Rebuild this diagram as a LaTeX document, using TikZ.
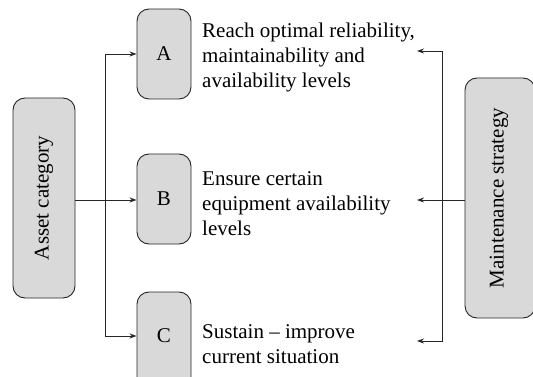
\documentclass[tikz,border=0pt]{standalone}
\usepackage{fontspec}
\setmainfont{Liberation Serif}
\usetikzlibrary{arrows.meta}
\begin{document}
\begin{tikzpicture}[x=1pt,y=-1pt,
  box/.style={draw=black!85, fill=black!15, line width=0.9pt, rounded corners=12pt, inner sep=0pt},
  big/.style={font=\fontsize{21}{25}\selectfont},
  lbl/.style={big, align=left, anchor=base west, inner sep=0pt},
  conn/.style={draw=black!85, line width=0.9pt},
  arr/.style={conn, -{Stealth[length=7pt,width=5pt]}}]
\useasboundingbox (0,0) rectangle (533,377);
\node[box, minimum width=62pt, minimum height=200pt] (asset) at (44,198) {};
\node[rotate=90, big] (assettxt) at (asset.center) {Asset category};
\node[box, big, minimum width=54pt, minimum height=90pt] (A) at (164,54) {A};
\node[box, big, minimum width=54pt, minimum height=90pt] (B) at (164,199) {B};
\node[box, minimum width=54pt, minimum height=100pt] (C) at (164,342) {};
\node[big] (Ct) at (164,336) {C};
\node[box, minimum width=70pt, minimum height=240pt] (M) at (500,198) {};
\node[rotate=90, big] (Mtxt) at (499,198) {Maintenance strategy};
\node[lbl] (tA) at (202,88) {Reach optimal reliability,\\maintainability and\\availability levels};
\node[lbl] (tB) at (202,235) {Ensure certain\\equipment availability\\levels};
\node[lbl] (tC) at (202,363) {Sustain -- improve\\current situation};
\coordinate (sL) at (105,200);
\coordinate (sR) at (442,200);
\coordinate (eA) at (417,51);
\coordinate (eB) at (417,200);
\coordinate (eC) at (417,341);
\draw[conn] (asset.east |- sL) -- (sL);
\draw[arr] (sL) |- (A.west);
\draw[arr] (sL) -- (B.west |- sL);
\draw[arr] (sL) |- (C.west |- Ct.center);
\draw[conn] (M.west |- sR) -- (sR);
\draw[arr] (sR) |- (eA);
\draw[arr] (sR) -- (eB);
\draw[arr] (sR) |- (eC);
\end{tikzpicture}
\end{document}
